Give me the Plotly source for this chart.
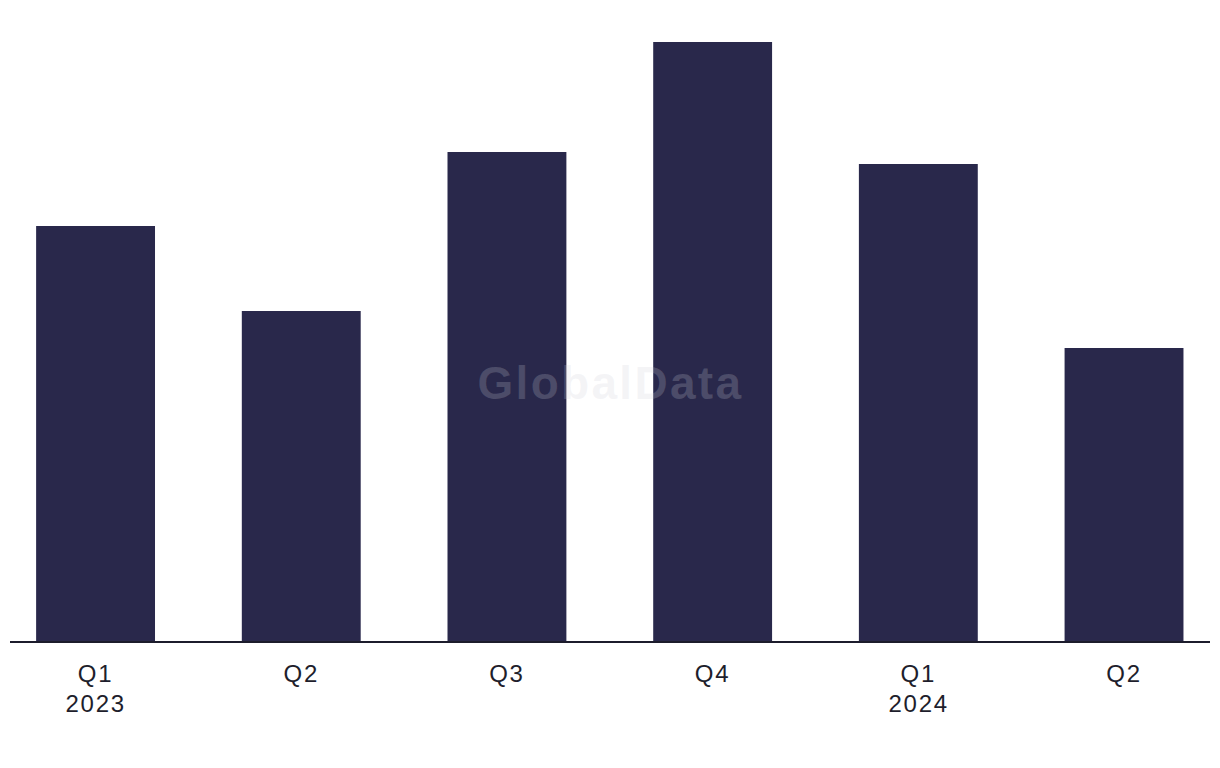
import plotly.graph_objects as go

quarters = ["Q1", "Q2", "Q3", "Q4", "Q1", "Q2"]
years = ["2023", "", "", "", "2024", ""]
values = [415, 330, 489, 599, 477, 293]
positions = [0, 1, 2, 3, 4, 5]

FONT = "Liberation Sans, Arial, Helvetica"
TXT = "#1e1e2c"

fig = go.Figure()
fig.add_trace(go.Bar(
    x=positions, y=values, width=0.578,
    marker=dict(color="#29284b", line=dict(width=0)),
    hoverinfo="skip",
))

annotations = [dict(
    text="<b>GlobalData</b>", x=0.5, y=0.5, xref="paper", yref="paper",
    showarrow=False, yshift=-52,
    font=dict(size=46, color="rgba(205,205,215,0.22)", family=FONT),
)]
for p, yr in zip(positions, years):
    if yr:
        annotations.append(dict(
            text=yr, x=p, y=0, xref="x", yref="y", yanchor="top",
            showarrow=False, yshift=-47,
            font=dict(size=24, color=TXT, family=FONT),
        ))

fig.update_layout(
    width=1220, height=768,
    margin=dict(l=10, r=10, t=20, b=127),
    plot_bgcolor="white", paper_bgcolor="white",
    showlegend=False,
    font=dict(family=FONT, color=TXT, size=24),
    xaxis=dict(
        range=[-0.416, 5.418], tickvals=positions, ticktext=quarters,
        showgrid=False, zeroline=False, showline=True, linecolor="#1c1c2c", linewidth=2,
        ticks="", tickfont=dict(size=24, color=TXT), ticklabelstandoff=10,
    ),
    yaxis=dict(range=[0, 621], visible=False, showgrid=False, zeroline=False),
    annotations=annotations,
)

post = """
document.body.style.margin='0';
var s=document.createElement('style');
s.textContent='.xtick text{letter-spacing:1.8px;} .annotation text{letter-spacing:1.8px;} .annotation[data-index="0"] text{letter-spacing:2.3px;}';
document.head.appendChild(s);
"""
fig.write_html("out.html", post_script=post, config={"displayModeBar": False})
